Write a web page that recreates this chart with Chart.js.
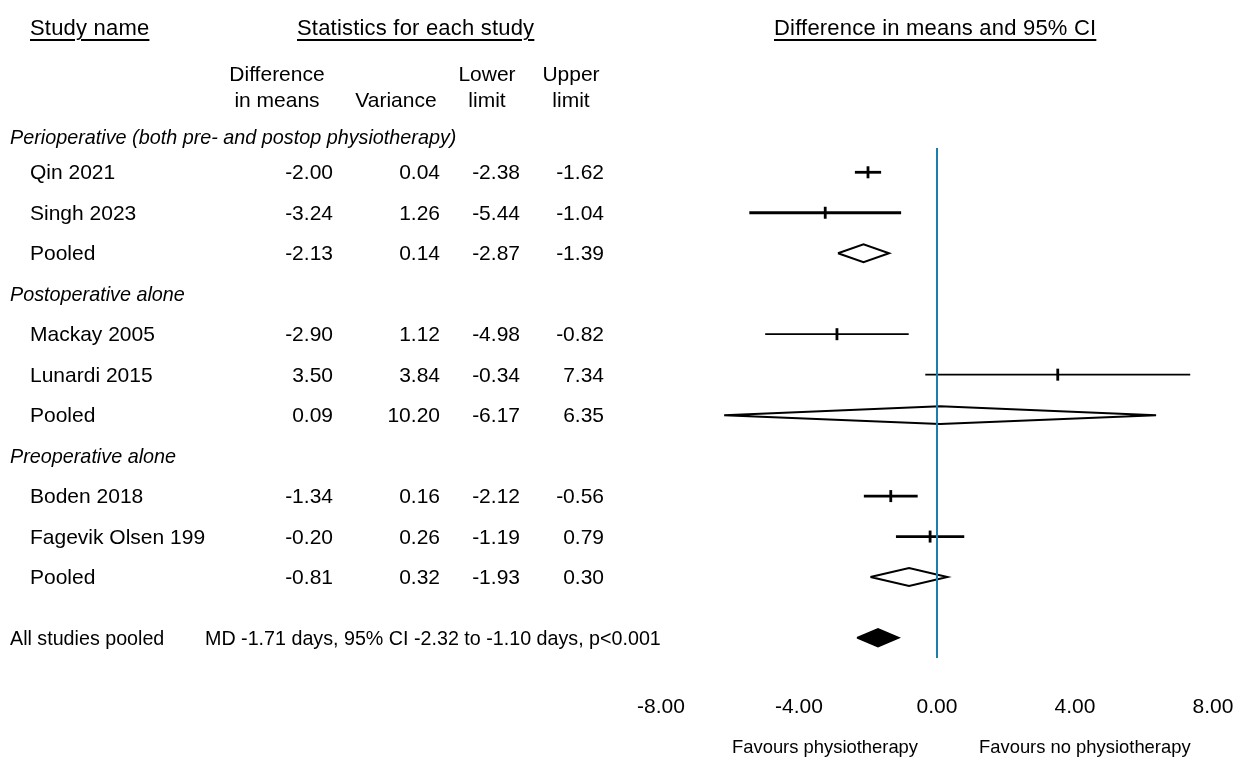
<!DOCTYPE html>
<html>
<head>
<meta charset="utf-8">
<title>Forest plot</title>
<script src="https://cdn.jsdelivr.net/npm/chart.js@4.4.1/dist/chart.umd.min.js"></script>
<style>
    html, body { margin: 0; padding: 0; background: #fff; }
    #wrap {
        position: relative; width: 1236px; height: 758px; overflow: hidden;
        font-family: "Liberation Sans", Arial, sans-serif; color: #000;
    }
    #plot { position: absolute; left: 0; top: 0; }
    .t { position: absolute; white-space: nowrap; line-height: 24px; height: 24px; }
    .r { text-align: right; }
    .c { text-align: center; }
    .head { font-size: 22px; letter-spacing: 0.2px; }
    .head span { text-decoration: underline; text-decoration-thickness: 2px; text-underline-offset: 4px; }
    .col { font-size: 21px; }
    .row { font-size: 21px; }
    .grp { font-size: 19.8px; font-style: italic; }
    .small { font-size: 19.7px; }
    .fav { font-size: 18.4px; }
</style>
</head>
<body>
<div id="wrap"><canvas id="plot" width="1236" height="758"></canvas></div>
<script>
// --- data ---
const groupNames = ['Perioperative (both pre- and postop physiotherapy)',
    'Postoperative alone',
    'Preoperative alone'];
const studyNames = ['Qin 2021', 'Singh 2023', 'Pooled',
    'Mackay 2005', 'Lunardi 2015', 'Pooled',
    'Boden 2018', 'Fagevik Olsen 199', 'Pooled'];
const studyGroup = [0, 0, 0, 1, 1, 1, 2, 2, 2];
const isPooled = [false, false, true, false, false, true, false, false, true];
const diffMeans = [-2.00, -3.24, -2.13, -2.90, 3.50, 0.09, -1.34, -0.20, -0.81];
const variance = [0.04, 1.26, 0.14, 1.12, 3.84, 10.20, 0.16, 0.26, 0.32];
const lowerLimit = [-2.38, -5.44, -2.87, -4.98, -0.34, -6.17, -2.12, -1.19, -1.93];
const upperLimit = [-1.62, -1.04, -1.39, -0.82, 7.34, 6.35, -0.56, 0.79, 0.30];
const overallMD = -1.71;
const overallLower = -2.32;
const overallUpper = -1.10;
const overallLabel = 'All studies pooled';
const overallText = 'MD -1.71 days, 95% CI -2.32 to -1.10 days, p<0.001';
const xTicks = [-8, -4, 0, 4, 8];
const favourLabels = ['Favours physiotherapy', 'Favours no physiotherapy'];

// --- styles ---
const FONT = '"Liberation Sans", Arial, sans-serif';
const ZERO_COLOR = '#1d7dab';
const DIAMOND_H = 0.22;
const ciWidth = [2.8, 2.8, 0, 1.8, 1.8, 0, 2.8, 2.8, 0];

const rowOf = i => i + studyGroup[i];
const groupRow = g => (g === 0 ? -0.87 : 4 * g - 1);
const overallRow = rowOf(studyNames.length - 1) + 1.5;

const datasets = [];
const markers = [];
studyNames.forEach((name, i) => {
    const r = rowOf(i);
    if (isPooled[i]) {
        datasets.push({
            data: [{ x: lowerLimit[i], y: r }, { x: diffMeans[i], y: r - DIAMOND_H },
                { x: upperLimit[i], y: r }, { x: diffMeans[i], y: r + DIAMOND_H },
                { x: lowerLimit[i], y: r }],
            showLine: true, borderColor: '#000', borderWidth: 2,
            borderJoinStyle: 'miter', pointRadius: 0, fill: false
        });
    } else {
        datasets.push({
            data: [{ x: lowerLimit[i], y: r }, { x: upperLimit[i], y: r }],
            showLine: true, borderColor: '#000', borderWidth: ciWidth[i],
            borderCapStyle: 'butt', pointRadius: 0
        });
        markers.push({ x: diffMeans[i], y: r });
    }
});
datasets.push({
    data: markers, showLine: false, pointStyle: 'line', rotation: 90,
    pointRadius: 6, borderColor: '#000', pointBorderWidth: 2.8
});
datasets.push({
    data: [{ x: overallLower, y: overallRow }, { x: overallMD, y: overallRow - DIAMOND_H },
        { x: overallUpper, y: overallRow }, { x: overallMD, y: overallRow + DIAMOND_H },
        { x: overallLower, y: overallRow }],
    showLine: true, borderColor: '#000', backgroundColor: '#000', borderWidth: 1.5,
    pointRadius: 0, fill: 'shape'
});

const zeroLine = {
    id: 'zeroLine',
    afterDatasetsDraw(chart) {
        const { ctx, chartArea, scales: { x } } = chart;
        const px = x.getPixelForValue(0);
        ctx.save();
        ctx.strokeStyle = ZERO_COLOR;
        ctx.lineWidth = 2;
        ctx.beginPath();
        ctx.moveTo(px, chartArea.top);
        ctx.lineTo(px, chartArea.bottom);
        ctx.stroke();
        ctx.restore();
    }
};

const chart = new Chart(document.getElementById('plot'), {
    type: 'scatter',
    data: { datasets: datasets },
    options: {
        responsive: false,
        animation: false,
        events: [],
        layout: { padding: { left: 661, right: 23, top: 148, bottom: 42 } },
        plugins: { legend: { display: false }, tooltip: { enabled: false } },
        scales: {
            x: {
                type: 'linear', min: -8, max: 8,
                afterBuildTicks: axis => { axis.ticks = xTicks.map(v => ({ value: v })); },
                afterFit: axis => {
                    axis.paddingLeft = 0;
                    axis.paddingRight = 0;
                    axis.height = 58;
                },
                grid: { display: false, drawTicks: false },
                border: { display: false },
                ticks: {
                    padding: 37, color: '#000', maxRotation: 0,
                    font: { family: FONT, size: 21 },
                    callback: v => Number(v).toFixed(2)
                }
            },
            y: { type: 'linear', min: -0.6, max: 12, reverse: true, display: false }
        }
    },
    plugins: [zeroLine]
});

// --- table text, placed on the chart's row scale ---
const wrap = document.getElementById('wrap');
function addText(text, cls, left, top, width) {
    const d = document.createElement('div');
    d.className = 't ' + cls;
    d.style.left = left + 'px';
    d.style.top = (top - 12) + 'px';
    if (width) d.style.width = width + 'px';
    if (cls.indexOf('head') >= 0) {
        const s = document.createElement('span');
        s.textContent = text;
        d.appendChild(s);
    } else {
        d.textContent = text;
    }
    wrap.appendChild(d);
}
const yPx = r => chart.scales.y.getPixelForValue(r);
const xPx = v => chart.scales.x.getPixelForValue(v);

addText('Study name', 'head', 30, 28);
addText('Statistics for each study', 'head', 297, 28);
addText('Difference in means and 95% CI', 'head', 774, 28);

const colRight = [333, 440, 520, 604];
const colHead1 = ['Difference', '', 'Lower', 'Upper'];
const colHead2 = ['in means', 'Variance', 'limit', 'limit'];
const colCenter = [277, 396, 487, 571];
colHead1.forEach((h, k) => { if (h) addText(h, 'col c', colCenter[k] - 60, 74, 120); });
colHead2.forEach((h, k) => addText(h, 'col c', colCenter[k] - 60, 100, 120));

groupNames.forEach((g, k) => addText(g, 'grp', 10, yPx(groupRow(k))));
studyNames.forEach((name, i) => {
    const y = yPx(rowOf(i));
    addText(name, 'row', 30, y);
    [diffMeans[i], variance[i], lowerLimit[i], upperLimit[i]].forEach((v, k) => {
        addText(v.toFixed(2), 'row r', colRight[k] - 100, y, 100);
    });
});
addText(overallLabel, 'small', 10, yPx(overallRow));
addText(overallText, 'small', 205, yPx(overallRow));

const zx = xPx(0);
addText(favourLabels[0], 'fav', zx - 205, 747);
addText(favourLabels[1], 'fav', zx + 42, 747);
</script>
</body>
</html>
